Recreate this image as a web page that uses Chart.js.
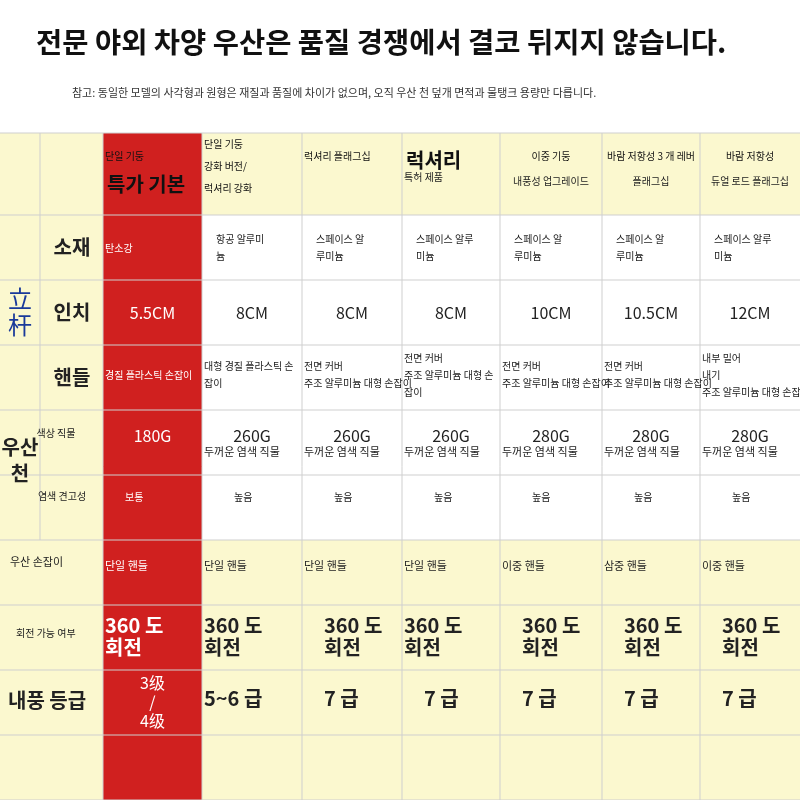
<!DOCTYPE html>
<html><head><meta charset="utf-8">
<script src="https://cdn.jsdelivr.net/npm/chart.js@4/dist/chart.umd.min.js"></script>
<style>body{margin:0;background:#fff}#wrap{width:800px;height:800px}</style>
</head><body><div id="wrap"><canvas id="tbl"></canvas></div>
<script>
const titleText = '전문 야외 차양 우산은 품질 경쟁에서 결코 뒤지지 않습니다.';
const noteText = '참고: 동일한 모델의 사각형과 원형은 재질과 품질에 차이가 없으며, 오직 우산 천 덮개 면적과 물탱크 용량만 다릅니다.';
const headSmall = ['단일 기둥', '단일 기둥\n강화 버전/\n럭셔리 강화', '럭셔리 플래그십', '', '이중 기둥', '바람 저항성 3 개 레버', '바람 저항성'];
const headBig = ['특가 기본', '', '', '럭셔리', '', '', ''];
const headSub = ['', '', '', '특허 제품', '내풍성 업그레이드', '플래그십', '듀얼 로드 플래그십'];
const materials = ['탄소강', '항공 알루미\n늄', '스페이스 알\n루미늄', '스페이스 알루\n미늄', '스페이스 알\n루미늄', '스페이스 알\n루미늄', '스페이스 알루\n미늄'];
const inches = ['5.5CM', '8CM', '8CM', '8CM', '10CM', '10.5CM', '12CM'];
const handles = ['경질 플라스틱 손잡이', '대형 경질 플라스틱 손\n잡이', '전면 커버\n주조 알루미늄 대형 손잡이', '전면 커버\n주조 알루미늄 대형 손\n잡이', '전면 커버\n주조 알루미늄 대형 손잡이', '전면 커버\n주조 알루미늄 대형 손잡이', '내부 밀어\n내기\n주조 알루미늄 대형 손잡이'];
const fabricWeight = ['180G', '260G', '260G', '260G', '280G', '280G', '280G'];
const fabricDesc = ['색상 직물', '두꺼운 염색 직물', '두꺼운 염색 직물', '두꺼운 염색 직물', '두꺼운 염색 직물', '두꺼운 염색 직물', '두꺼운 염색 직물'];
const colorFast = ['보통', '높음', '높음', '높음', '높음', '높음', '높음'];
const umbrellaHandle = ['단일 핸들', '단일 핸들', '단일 핸들', '단일 핸들', '이중 핸들', '삼중 핸들', '이중 핸들'];
const rotation = ['360 도\n회전', '360 도\n회전', '360 도\n회전', '360 도\n회전', '360 도\n회전', '360 도\n회전', '360 도\n회전'];
const windGrade = ['3级\n/\n4级', '5~6 급', '7 급', '7 급', '7 급', '7 급', '7 급'];

// layout (in scale units, 0..800)
const colEdges = [0, 40, 103, 202, 302, 402, 500, 602, 700, 800];
const rowEdges = [133, 215, 280, 345, 410, 475, 540, 605, 670, 735, 800];
const FONT = '"Noto Sans CJK KR", "Noto Sans", sans-serif';

const tablePlugin = {
  id: 'tablePlugin',
  afterDraw(chart) {
    const ctx = chart.ctx, sx = chart.scales.x, sy = chart.scales.y;
    const X = v => sx.getPixelForValue(v), Y = v => sy.getPixelForValue(v);
    const rect = (x0, y0, x1, y1, c) => { ctx.fillStyle = c; ctx.fillRect(X(x0), Y(y0), X(x1) - X(x0), Y(y1) - Y(y0)); };
    const text = (s, x, y, size, opt = {}) => {
      ctx.fillStyle = opt.color || '#222';
      ctx.font = (opt.bold ? 'bold ' : '') + size + 'px ' + FONT;
      ctx.textAlign = opt.align || 'left';
      ctx.textBaseline = 'middle';
      const lines = s.split('\n'), lh = opt.lh || size * 1.25;
      lines.forEach((l, i) => ctx.fillText(l, X(x), Y(y) + (i - (lines.length - 1) / 2) * lh));
    };
    ctx.save();
    // title and note
    text(titleText, 36, 42, 28.5, { bold: true, color: '#111' });
    text(noteText, 72, 93, 11, { color: '#333' });
    // backgrounds
    const yellow = '#fbf8cf';
    rect(0, rowEdges[0], 800, rowEdges[1], yellow);
    rect(0, rowEdges[1], colEdges[2], rowEdges[6], yellow);
    rect(0, rowEdges[6], 800, 800, yellow);
    rect(colEdges[2], rowEdges[0], colEdges[3], 800, '#d0201f');
    // grid
    ctx.strokeStyle = '#cfcfcf'; ctx.lineWidth = 1;
    rowEdges.forEach(r => { ctx.beginPath(); ctx.moveTo(X(0), Y(r)); ctx.lineTo(X(800), Y(r)); ctx.stroke(); });
    colEdges.slice(1, -1).forEach((c, i) => {
      ctx.beginPath();
      ctx.moveTo(X(c), Y(rowEdges[0]));
      ctx.lineTo(X(c), Y(i === 0 ? rowEdges[6] : 800));
      ctx.stroke();
    });
    // left labels
    text('立\n杆', 20, 312, 24, { align: 'center', lh: 26, color: '#1a3a9a' });
    text('우산\n천', 20, 460, 20, { align: 'center', bold: true, lh: 26 });
    ['소재', '인치', '핸들'].forEach((s, i) => text(s, 72, (rowEdges[i + 1] + rowEdges[i + 2]) / 2, 20, { align: 'center', bold: true }));
    text('색상 직물', 56, 433, 10, { align: 'center' });
    text('염색 견고성', 62, 496, 10, { align: 'center' });
    text('우산 손잡이', 10, 562, 11);
    text('회전 가능 여부', 16, 633, 10);
    text('내풍 등급', 8, 700, 20, { bold: true });
    // product columns
    for (let i = 0; i < 7; i++) {
      const x0 = colEdges[i + 2] + 2, xc = (colEdges[i + 2] + colEdges[i + 3]) / 2;
      const red = i === 0, col = red ? '#fff' : '#222';
      if (headSmall[i]) text(headSmall[i], i >= 4 ? xc : x0, i === 1 ? 166 : 156, 10, { color: '#111', lh: 22, align: i >= 4 ? 'center' : 'left' });
      if (headBig[i]) text(headBig[i], x0 + 2, i === 0 ? 184 : 160, 20, { bold: true, color: '#111' });
      if (headSub[i]) text(headSub[i], i >= 4 ? xc : x0, i === 3 ? 177 : 181, 10, { align: i >= 4 ? 'center' : 'left' });
      text(materials[i], x0 + (red ? 0 : 12), 248, 10, { color: col, lh: 17 });
      text(inches[i], xc, 313, 16, { align: 'center', color: col });
      text(handles[i], x0, 375, 10, { color: col, lh: 17 });
      text(fabricWeight[i], xc, 436, 16, { align: 'center', color: col });
      if (i > 0) text(fabricDesc[i], x0, 452, 11, { color: col });
      text(colorFast[i], x0 + (red ? 20 : 30), 497, 10, { color: col });
      text(umbrellaHandle[i], x0, 566, 11, { color: col });
      text(rotation[i], x0 + (i >= 2 && i !== 3 ? 20 : 0), 636, 20, { bold: true, color: col, lh: 22 });
      text(windGrade[i], red ? xc : x0 + (i >= 2 ? 20 : 0), i === 0 ? 702 : 698, red ? 16 : 20, { bold: !red, color: col, align: red ? 'center' : 'left', lh: 19 });
    }
    ctx.restore();
  }
};

new Chart(document.getElementById('tbl'), {
  type: 'scatter',
  data: { datasets: [{ data: [] }] },
  options: {
    responsive: true, maintainAspectRatio: false, animation: false,
    layout: { padding: 0 },
    plugins: { legend: { display: false }, tooltip: { enabled: false } },
    scales: {
      x: { type: 'linear', min: 0, max: 800, display: false },
      y: { type: 'linear', min: 0, max: 800, reverse: true, display: false }
    }
  },
  plugins: [tablePlugin]
});
</script></body></html>
